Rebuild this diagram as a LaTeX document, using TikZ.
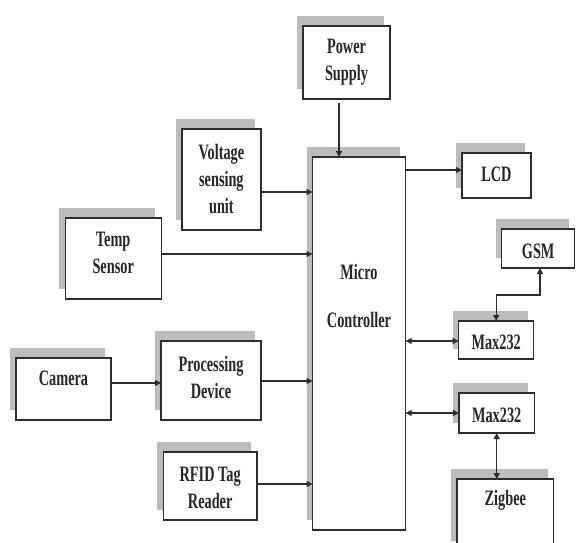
\documentclass[tikz,border=0pt]{standalone}
\usepackage{fontspec}
\setmainfont{Liberation Serif}[FakeStretch=0.65]
\usetikzlibrary{arrows.meta,shadows}
\definecolor{shadowgray}{RGB}{188,188,188}
\definecolor{linegray}{RGB}{45,45,45}
\tikzset{
  blk/.style={draw=linegray, line width=1.4pt, fill=white, inner sep=0pt, outer sep=0pt,
    drop shadow={shadow xshift=-6pt, shadow yshift=10pt, fill=shadowgray, opacity=1}},
  txt/.style={align=center, inner sep=0pt, font=\bfseries\fontsize{22}{27}\selectfont, text=black!85},
  arr/.style={draw=linegray, line width=1.3pt, -{Triangle[length=6pt,width=6pt]}},
  dbl/.style={draw=linegray, line width=1.3pt, {Triangle[length=6pt,width=6pt]}-{Triangle[length=6pt,width=6pt]}}
}
\begin{document}
\begin{tikzpicture}[x=1pt,y=-1pt]
\clip (0,0) rectangle (576,543);
\fill[white] (0,0) rectangle (576,543);
% boxes
\node[blk, minimum width=87pt, minimum height=73pt] (ps) at (346.5,62.5) {};
\node[blk, minimum width=93pt, minimum height=373pt] (mc) at (359.1,343.5) {};
\node[blk, minimum width=69pt, minimum height=45pt] (lcd) at (496.4,175.5) {};
\node[blk, minimum width=79pt, minimum height=101pt] (vs) at (221.4,179.5) {};
\node[blk, minimum width=96pt, minimum height=81pt] (ts) at (113.2,258.5) {};
\node[blk, minimum width=73pt, minimum height=39pt] (gsm) at (538.2,248.5) {};
\node[blk, minimum width=75pt, minimum height=38pt] (max1) at (496.2,340) {};
\node[blk, minimum width=100pt, minimum height=79pt] (pd) at (211,380.5) {};
\node[blk, minimum width=95pt, minimum height=62pt] (cam) at (63.5,389) {};
\node[blk, minimum width=93.5pt, minimum height=68pt] (rfid) at (210.2,486) {};
\node[blk, minimum width=75.5pt, minimum height=40pt] (max2) at (496.7,413) {};
\node[blk, minimum width=96.6pt, minimum height=72pt] (zig) at (505.3,515) {};
% texts
\node[txt] (pst) at (346.5,62) {Power\\Supply};
\node[txt] (vst) at (221.4,179.5) {Voltage\\sensing\\unit};
\node[txt] (tst) at (113.2,252.5) {Temp\\Sensor};
\node[txt] (mct1) at (359,272) {Micro};
\node[txt] (mct2) at (359,320) {Controller};
\node[txt] (camt) at (63.5,378) {Camera};
\node[txt] (pdt) at (211,377) {Processing\\Device};
\node[txt] (rfidt) at (210.2,488) {RFID Tag\\Reader};
\node[txt] (lcdt) at (496.4,174) {LCD};
\node[txt] (gsmt) at (538.2,251) {GSM};
\node[txt] (max1t) at (496.2,342) {Max232};
\node[txt] (max2t) at (496.7,415) {Max232};
\node[txt] (zigt) at (505.3,500) {Zigbee};
% connectors
\draw[arr] ([yshift=-4pt]339,0 |- ps.south) -- (339,0 |- mc.north);
\draw[arr] (vs.east |- 0,192) -- (mc.west |- 0,192);
\draw[arr] (ts.east |- 0,254) -- (mc.west |- 0,254);
\draw[arr] (cam.east |- 0,383) -- (pd.west |- 0,383);
\draw[arr] (pd.east |- 0,381) -- (mc.west |- 0,381);
\draw[arr] (rfid.east |- 0,484) -- (mc.west |- 0,484);
\draw[arr] (mc.east |- 0,170) -- (lcd.west |- 0,170);
\draw[dbl] (mc.east |- 0,341) -- (max1.west |- 0,341);
\draw[dbl] (mc.east |- 0,413) -- (max2.west |- 0,413);
\draw[dbl] (540,0 |- gsm.south) |- (max1.north |- 0,295) -- (max1.north);
\draw[dbl] (max2.south) -- (max2.south |- zig.north);
\end{tikzpicture}
\end{document}
